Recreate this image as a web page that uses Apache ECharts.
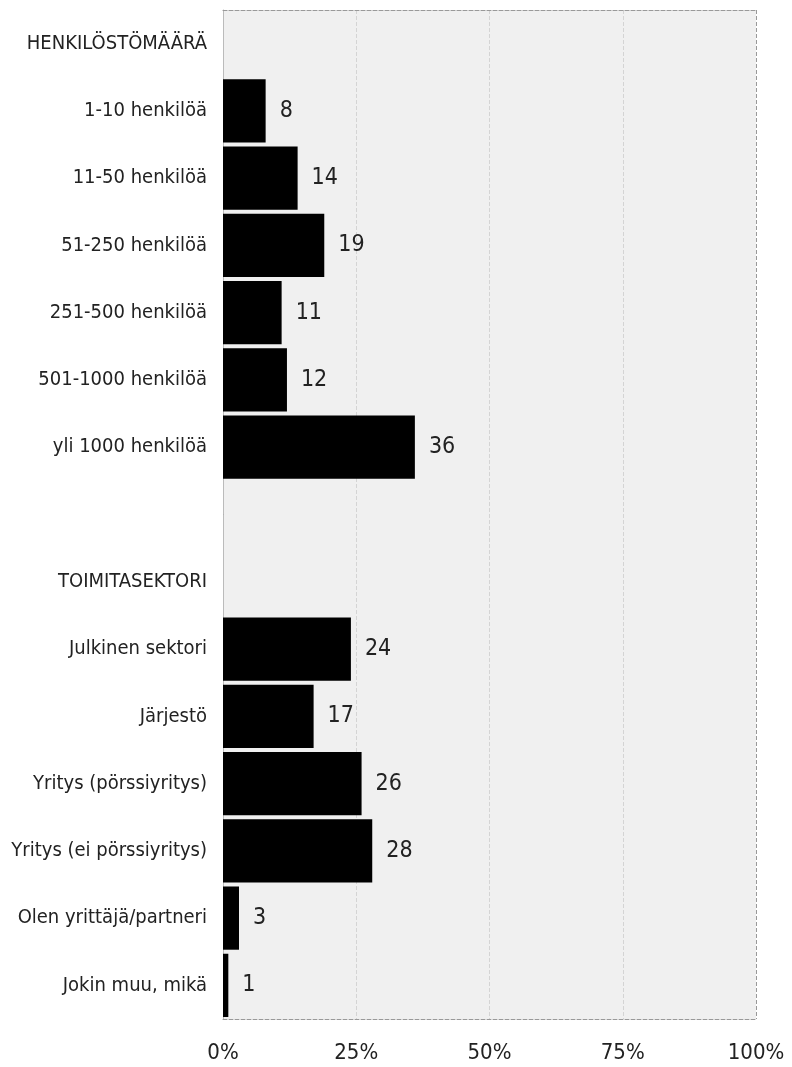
<!DOCTYPE html>
<html>
<head>
<meta charset="utf-8">
<style>
  html, body { margin: 0; padding: 0; background: #fff; }
  #chart { width: 792px; height: 1067px; }
</style>
<script src="https://cdn.jsdelivr.net/npm/echarts@6/dist/echarts.min.js"></script>
</head>
<body>
<div id="chart"></div>
<script>
// Rows from top to bottom; section headers and the spacer carry no value
const categories = [
  'HENKILÖSTÖMÄÄRÄ',
  '1-10 henkilöä',
  '11-50 henkilöä',
  '51-250 henkilöä',
  '251-500 henkilöä',
  '501-1000 henkilöä',
  'yli 1000 henkilöä',
  '',
  'TOIMITASEKTORI',
  'Julkinen sektori',
  'Järjestö',
  'Yritys (pörssiyritys)',
  'Yritys (ei pörssiyritys)',
  'Olen yrittäjä/partneri',
  'Jokin muu, mikä'
];
const values = [null, 8, 14, 19, 11, 12, 36, null, null, 24, 17, 26, 28, 3, 1];
const tickValues = [0, 25, 50, 75, 100];

const FONT = '"Liberation Sans Narrow", "DejaVu Sans Condensed", "Roboto", sans-serif';
const chart = echarts.init(document.getElementById('chart'));

chart.setOption({
  animation: false,
  backgroundColor: '#ffffff',
  grid: {
    left: 223, right: 36, top: 10, bottom: 48,
    show: true, backgroundColor: '#f0f0f0', borderWidth: 0
  },
  xAxis: [{
    type: 'value',
    min: tickValues[0], max: tickValues[tickValues.length - 1], interval: 25,
    position: 'bottom',
    axisLine: { show: true, lineStyle: { color: '#999', type: 'dashed', width: 1 } },
    axisTick: { show: false },
    axisLabel: {
      formatter: v => v + '%', color: '#222', fontSize: 22, fontFamily: FONT,
      margin: 23
    },
    splitLine: { show: true, lineStyle: { color: ['#999', '#d4d4d4', '#d4d4d4', '#d4d4d4', '#999'], type: 'dashed' } }
  }, {
    type: 'value',
    min: 0, max: 100, position: 'top',
    axisLine: { show: true, lineStyle: { color: '#999', type: 'dashed', width: 1 } },
    axisTick: { show: false }, axisLabel: { show: false }, splitLine: { show: false }
  }],
  yAxis: {
    type: 'category',
    data: categories,
    inverse: true,
    axisLine: { show: true, lineStyle: { color: '#bbb', width: 1 } },
    axisTick: { show: false },
    axisLabel: { color: '#222', fontSize: 20, fontFamily: FONT, margin: 16 },
    splitLine: { show: false }
  },
  series: [{
    type: 'bar',
    data: values,
    barCategoryGap: '6%',
    itemStyle: { color: '#000' },
    label: {
      show: true, position: 'right', distance: 14,
      color: '#222', fontSize: 23, fontFamily: FONT,
      formatter: p => p.value
    }
  }]
});
</script>
</body>
</html>
